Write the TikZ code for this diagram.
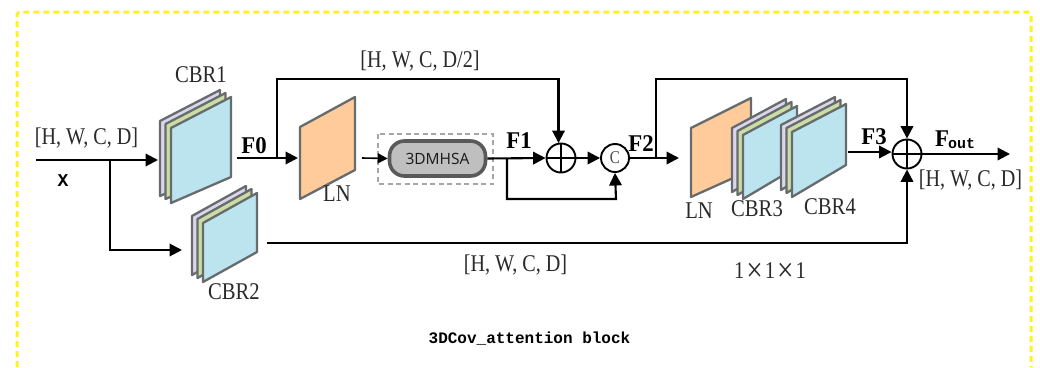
\documentclass[tikz,border=0pt]{standalone}
\usepackage{fontspec}
\usetikzlibrary{arrows.meta}
\newfontfamily\serA[FakeStretch=0.86]{Liberation Serif}
\newfontfamily\serB[FakeStretch=0.84]{Liberation Serif}
\newfontfamily\serC[FakeStretch=0.95]{Liberation Serif}
\newfontfamily\monoC{Liberation Mono}
\setsansfont{Open Sans}
\definecolor{frameY}{HTML}{FFF21E}
\definecolor{panelBlue}{HTML}{BBE4EF}
\definecolor{panelGreen}{HTML}{CBDDA4}
\definecolor{panelLilac}{HTML}{DCD6EA}
\definecolor{panelOrange}{HTML}{FFCB9A}
\definecolor{panelEdge}{HTML}{666B6D}
\definecolor{txtGray}{HTML}{2A2A2A}
\tikzset{
  flow/.style={draw=black,line width=2.1pt,-{Triangle[length=12.5pt,width=12.5pt]}},
  panel/.style={draw=panelEdge,line width=2.3pt,line join=round},
  label/.style={inner sep=0pt,text=txtGray,font=\serA\fontsize{24}{24}\selectfont},
  dims/.style={inner sep=0pt,text=txtGray,font=\serB\fontsize{24}{24}\selectfont},
  boldlab/.style={inner sep=0pt,text=black,font=\serC\bfseries\fontsize{24}{24}\selectfont},
  oplusnode/.style={circle,draw=black,line width=1.9pt,minimum size=29pt,inner sep=0pt},
}
% blue panel: left x, right x, TL y, TR y, BL y, BR y
\newcommand{\sheet}[7]{\draw[panel,fill=#7] (#1,#3) -- (#2,#4) -- (#2,#6) -- (#1,#5) -- cycle;}
\newcommand{\stackup}[6]{%
  \begin{scope}[shift={(-11,-7)}]\sheet{#1}{#2}{#3}{#4}{#5}{#6}{panelLilac}\end{scope}
  \begin{scope}[shift={(-5.5,-4)}]\sheet{#1}{#2}{#3}{#4}{#5}{#6}{panelGreen}\end{scope}
  \sheet{#1}{#2}{#3}{#4}{#5}{#6}{panelBlue}}
\newcommand{\bigtimes}{\raisebox{-2.6pt}{\fontsize{34}{34}\selectfont ×}}
\begin{document}
\begin{tikzpicture}[x=1pt,y=-1pt]
\useasboundingbox (0,0) rectangle (1040,367);
\fill[white] (0,0) rectangle (1040,367);
% outer frame
\draw[frameY,line width=3pt,dash pattern=on 6pt off 4pt,rounded corners=3pt]
  (17,367) -- (17,12) -- (1031,12) -- (1031,367);
% panels
\stackup{171}{231}{128}{97}{203}{177}
\stackup{203}{257}{223}{193}{282}{252}
\sheet{300}{355}{127}{97}{199}{170}{panelOrange}
\sheet{691}{751}{128}{98}{197}{170}{panelOrange}
\stackup{743}{797}{135}{106}{199}{167}
\stackup{792}{846}{132}{104}{197}{165}
% 3DMHSA
\draw[gray!70,line width=2pt,dash pattern=on 5pt off 3.5pt] (378,134) rectangle (493,184);
\node[draw=black!65,line width=3.6pt,fill=black!25,rounded corners=15pt,minimum width=96pt,minimum height=35pt,inner sep=0pt,font=\sffamily\fontsize{15.5}{16}\selectfont,text=black!90] (msa) at (437.5,158.5) {3DMHSA};
% junction nodes
\node[oplusnode] (sum1) at (561,158) {};
\draw[black,line width=1.4pt] (sum1.north) -- (sum1.south) (sum1.west) -- (sum1.east);
\node[oplusnode,minimum size=28pt,font=\serB\fontsize{18}{18}\selectfont,text=black!70] (cat) at (615,158) {C};
\node[oplusnode] (sum2) at (907,154) {};
\draw[black,line width=1.4pt] (sum2.north) -- (sum2.south) (sum2.west) -- (sum2.east);
% ports
\coordinate (in) at (36,160);
\coordinate (cbr1in) at (158,160);
\coordinate (split0) at (110,160);
\coordinate (cbr2in) at (182,250);
\coordinate (cbr1out) at (237,158);
\coordinate (ln1in) at (298,158);
\coordinate (split1) at (277,158);
\coordinate (ln1out) at (362,158);
\coordinate (split2) at (507,158);
\coordinate (f2out) at (679,158);
\coordinate (split3) at (656,158);
\coordinate (cbr4out) at (848,152);
\coordinate (cbr2out) at (267,243);
\coordinate (out) at (1010,154);
% connectors
\draw[flow] (in) -- (cbr1in);
\draw[flow] (split0) -- (split0 |- cbr2in) -- (cbr2in);
\draw[flow] (cbr1out) -- (ln1in);
\draw[flow] (split1) -- (277,79) -- (558.5,79) -- (558.5,143);
\draw[line width=1.6pt,-{Triangle[length=10pt,width=10pt]}] (ln1out) -- (msa.west);
\draw[flow] (msa.east) -- (sum1.west);
\draw[flow] (sum1.east) -- (cat.west);
\draw[flow] (split2) -- (507,199) -- (616,199) -- (cat.south);
\draw[flow] (cat.east) -- (f2out);
\draw[flow] (split3) -- (656,79) -- (907,79) -- (sum2.north);
\draw[flow] (cbr4out) -- (sum2.west |- cbr4out);
\draw[flow] (cbr2out) -- (907,243) -- (sum2.south);
\draw[flow] (sum2.east) -- (out);
% labels
\node[dims] (t1) at (86.5,138) {[H, W, C, D]};
\node[inner sep=0pt,font=\monoC\bfseries\fontsize{18}{18}\selectfont] (t2) at (63,181) {X};
\node[label] (t3) at (201,75) {CBR1};
\node[boldlab] (t4) at (254,146) {F0};
\node[label] (t5) at (337,194) {LN};
\node[dims] (t6) at (420,61) {[H, W, C, D/2]};
\node[boldlab] (t7) at (519,141) {F1};
\node[boldlab] (t8) at (641,144) {F2};
\node[label] (t9) at (699,210.5) {LN};
\node[label] (t10) at (757,209) {CBR3};
\node[label] (t11) at (830,207) {CBR4};
\node[boldlab] (t12) at (874,137) {F3};
\node[boldlab,anchor=base west] (t13) at (935,146) {F\kern-1pt\raisebox{-2pt}{\monoC\fontsize{15}{15}\selectfont out}};
\node[dims] (t14) at (970.5,180) {[H, W, C, D]};
\node[dims] (t15) at (515.5,265) {[H, W, C, D]};
\node[label] (t16) at (234,292) {CBR2};
\node[label] (t17) at (770,272) {1\kern2pt\bigtimes\kern2pt1\kern2pt\bigtimes\kern2pt1};
\node[inner sep=0pt,text=black,font=\monoC\bfseries\fontsize{16}{16}\selectfont] (t18) at (529.5,339) {3DCov\_attention block};
\end{tikzpicture}
\end{document}
